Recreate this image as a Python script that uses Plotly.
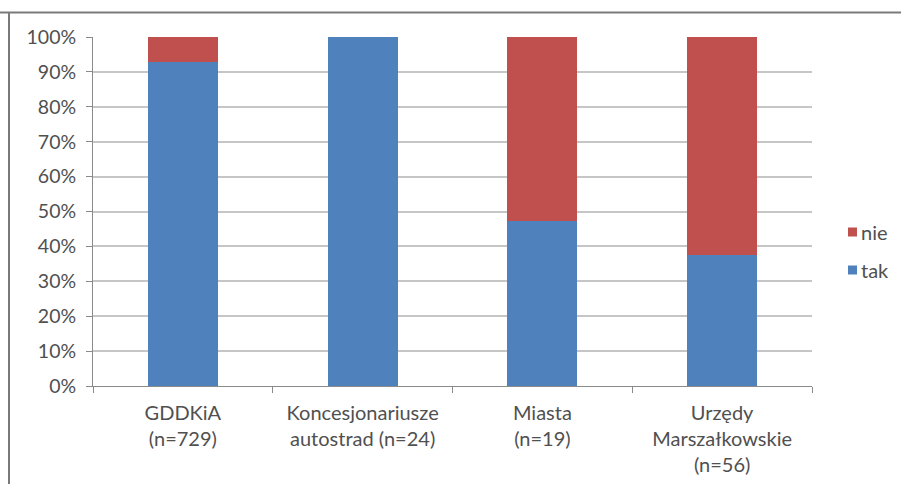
import plotly.graph_objects as go

# Share of answers per respondent group (percent)
categories = ["GDDKiA<br>(n=729)", "Koncesjonariusze<br>autostrad (n=24)",
              "Miasta<br>(n=19)", "Urzędy<br>Marszałkowskie<br>(n=56)"]
tak = [92.9, 100.0, 47.4, 37.5]
nie = [7.1, 0.0, 52.6, 62.5]
y_ticks = [0, 10, 20, 30, 40, 50, 60, 70, 80, 90, 100]
y_tick_labels = [f"{v}%" for v in y_ticks]

W, H = 901, 484
L, R, T, B = 93, 812, 37, 386

font_family = "Lato, 'Open Sans', sans-serif"
text_color = "#505050"
grid_color = "#c6c6c6"
axis_color = "#8a8a8a"
colors = {"tak": "#4F81BD", "nie": "#C0504D"}

fig = go.Figure()
fig.add_trace(go.Bar(x=categories, y=tak, name="tak", marker_color=colors["tak"],
                     marker_line_width=0))
fig.add_trace(go.Bar(x=categories, y=nie, name="nie", marker_color=colors["nie"],
                     marker_line_width=0))


def px_x(px):
    return (px - L) / (R - L)


def px_y(py):
    return (B - py) / (B - T)


# Frame lines along the top and left edges
fig.add_shape(type="line", xref="paper", yref="paper",
              x0=px_x(0), x1=px_x(W), y0=px_y(12.5), y1=px_y(12.5),
              line=dict(color="#7a7a7a", width=2), layer="above")
fig.add_shape(type="line", xref="paper", yref="paper",
              x0=px_x(9), x1=px_x(9), y0=px_y(12), y1=px_y(H),
              line=dict(color="#7a7a7a", width=2), layer="above")

# Legend on the right: "nie" above "tak"
for name, cy in (("nie", 232), ("tak", 270)):
    fig.add_shape(type="rect", xref="paper", yref="paper",
                  x0=px_x(848), x1=px_x(857), y0=px_y(cy + 4.5), y1=px_y(cy - 4.5),
                  fillcolor=colors[name], line_width=0)
    fig.add_annotation(xref="paper", yref="paper", x=px_x(859), y=px_y(cy),
                       xanchor="left", yanchor="middle", text=name, showarrow=False,
                       font=dict(size=20, color=text_color, family=font_family))

fig.update_layout(
    width=W, height=H,
    margin=dict(l=L, r=W - R, t=T, b=H - B, pad=0),
    barmode="stack",
    bargap=0.61,
    plot_bgcolor="white",
    paper_bgcolor="white",
    font=dict(family=font_family, size=20, color=text_color),
    showlegend=False,
    xaxis=dict(
        showline=True, linecolor=axis_color, linewidth=1,
        ticks="outside", ticklen=6, tickcolor=axis_color,
        tickson="boundaries", showgrid=False,
        tickfont=dict(size=20, color=text_color),
        ticklabelstandoff=9, automargin=False,
        range=[-0.5, 3.5],
    ),
    yaxis=dict(
        range=[0, 100], tickvals=y_ticks, ticktext=y_tick_labels,
        showline=True, linecolor=axis_color, linewidth=1,
        ticks="outside", ticklen=6, tickcolor=axis_color,
        showgrid=True, gridcolor=grid_color, gridwidth=1.5,
        zeroline=False, automargin=False,
        tickfont=dict(size=19.5, color=text_color),
        ticklabelstandoff=6,
    ),
)

fig.write_html("out.html")
